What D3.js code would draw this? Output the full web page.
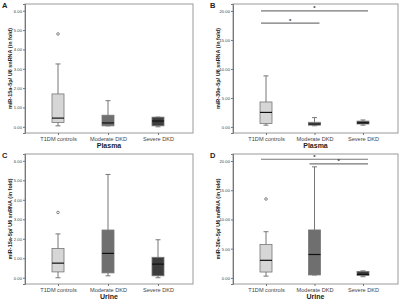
<!DOCTYPE html>
<html>
<head>
<meta charset="utf-8">
<script src="https://cdn.jsdelivr.net/npm/d3@7"></script>
<style>
  body { margin: 0; background: #fff; }
  svg { display: block; font-family: "Liberation Sans", Arial, sans-serif; }
</style>
</head>
<body>
<svg width="400" height="302"></svg>
<script>
// groups along the x axis
const groups = ["T1DM controls", "Moderate DKD", "Severe DKD"];
const boxFill = ["#d6d6d6", "#6f6f6f", "#3d3d3d"];

// five-number summaries [low, q1, median, q3, high]
const statsA = [[0.05, 0.22, 0.45, 1.7, 3.25], [0.05, 0.05, 0.2, 0.6, 1.35], [0.0, 0.05, 0.3, 0.5, 0.5]];
const outA = [[4.8], [], []];
const statsB = [[0.3, 0.6, 2.5, 4.3, 8.8], [0.2, 0.3, 0.5, 0.8, 1.6], [0.3, 0.5, 0.7, 1.0, 1.2]];
const outB = [[], [], []];
const statsC = [[0.0, 0.3, 0.75, 1.5, 2.25], [0.1, 0.25, 1.25, 2.45, 5.3], [0.0, 0.1, 0.7, 1.05, 1.95]];
const outC = [[3.35], [], []];
const statsD = [[0.3, 1.0, 3.0, 5.7, 7.9], [0.5, 0.5, 4.0, 8.2, 19.0], [0.2, 0.4, 0.6, 1.1, 1.2]];
const outD = [[13.5], [], []];

// significance bars [from group, to group, level]
const sigB = [[0, 2, 20.0], [0, 1, 17.9]];
const sigD = [[0, 2, 20.3], [1, 2, 19.5]];

const ticks15 = [0, 1, 2, 3, 4, 5, 6];
const ticks30 = [0, 5, 10, 15, 20];

const svg = d3.select("svg");

function panel(opt) {
  const g = svg.append("g");
  const x = d3.scalePoint().domain(groups).range([opt.x0 + 33, opt.x1 - 35]);
  const y = d3.scaleLinear().domain(opt.domain).range([opt.y1, opt.y0]);

  // frame
  g.append("rect")
    .attr("x", opt.x0).attr("y", opt.y0)
    .attr("width", opt.x1 - opt.x0).attr("height", opt.y1 - opt.y0)
    .attr("fill", "#fff").attr("stroke", "#9a9a9a").attr("stroke-width", 1);

  // y axis
  const ya = g.append("g")
    .attr("transform", `translate(${opt.x0},0)`)
    .call(d3.axisLeft(y).tickValues(opt.ticks).tickSize(2).tickPadding(1).tickFormat(d3.format(".2f")));
  ya.select(".domain").attr("stroke", "#777");
  ya.selectAll(".tick line").attr("stroke", "#777");
  ya.selectAll("text").attr("font-size", 4.2).attr("fill", "#444");

  // x axis
  const xa = g.append("g")
    .attr("transform", `translate(0,${opt.y1})`)
    .call(d3.axisBottom(x).tickSize(2).tickPadding(2));
  xa.select(".domain").remove();
  xa.selectAll(".tick line").attr("stroke", "#777");
  xa.selectAll("text").attr("font-size", 5.6).attr("fill", "#444");

  g.append("text")
    .attr("x", (opt.x0 + opt.x1) / 2).attr("y", opt.y1 + 15)
    .attr("text-anchor", "middle").attr("font-size", 7).attr("font-weight", "bold")
    .attr("fill", "#222").text(opt.xTitle);

  g.append("text")
    .attr("transform", `translate(${opt.x0 - 13},${(opt.y0 + opt.y1) / 2}) rotate(-90)`)
    .attr("text-anchor", "middle").attr("font-size", 5.5).attr("font-weight", "bold")
    .attr("fill", "#222").text(opt.yTitle);

  g.append("text")
    .attr("x", opt.x0 - 23).attr("y", opt.y0 + 4)
    .attr("font-size", 7.5).attr("font-weight", "bold").attr("fill", "#222").text(opt.label);

  // boxes
  const bw = 12, cap = 5;
  opt.stats.forEach((s, i) => {
    const cx = x(groups[i]);
    g.append("line").attr("x1", cx).attr("x2", cx).attr("y1", y(s[0])).attr("y2", y(s[4]))
      .attr("stroke", "#777").attr("stroke-width", 1);
    [s[0], s[4]].forEach(v => {
      g.append("line").attr("x1", cx - cap / 2).attr("x2", cx + cap / 2).attr("y1", y(v)).attr("y2", y(v))
        .attr("stroke", "#777").attr("stroke-width", 1);
    });
    g.append("rect").attr("x", cx - bw / 2).attr("y", y(s[3]))
      .attr("width", bw).attr("height", Math.max(1, y(s[1]) - y(s[3])))
      .attr("fill", boxFill[i]).attr("stroke", "#777").attr("stroke-width", 0.8);
    g.append("line").attr("x1", cx - bw / 2).attr("x2", cx + bw / 2).attr("y1", y(s[2])).attr("y2", y(s[2]))
      .attr("stroke", "#111").attr("stroke-width", 1.2);
    opt.out[i].forEach(v => {
      g.append("circle").attr("cx", cx).attr("cy", y(v)).attr("r", 1.3)
        .attr("fill", "none").attr("stroke", "#666").attr("stroke-width", 0.8);
    });
  });

  // significance bars
  (opt.sig || []).forEach(([a, b, v]) => {
    const xa1 = x(groups[a]) - 5, xb1 = x(groups[b]) + 5;
    g.append("line").attr("x1", xa1).attr("x2", xb1).attr("y1", y(v)).attr("y2", y(v))
      .attr("stroke", "#777").attr("stroke-width", 1.2);
    g.append("text").attr("x", (xa1 + xb1) / 2).attr("y", y(v) - 0.5)
      .attr("text-anchor", "middle").attr("font-size", 6).attr("font-weight", "bold")
      .attr("fill", "#333").text("*");
  });
}

const t15 = "miR-15a-5p/ U6 snRNA (in fold)";
const t30 = "miR-30e-5p/ U6 snRNA (in fold)";

panel({ label: "A", x0: 25, x1: 193, y0: 4, y1: 133, domain: [-0.32, 6.35], ticks: ticks15,
  stats: statsA, out: outA, xTitle: "Plasma", yTitle: t15 });
panel({ label: "B", x0: 233, x1: 398, y0: 4, y1: 133, domain: [-1.05, 21.2], ticks: ticks30,
  stats: statsB, out: outB, sig: sigB, xTitle: "Plasma", yTitle: t30 });
panel({ label: "C", x0: 25, x1: 193, y0: 154, y1: 284, domain: [-1.05 * 0 - 0.32, 6.35], ticks: ticks15,
  stats: statsC, out: outC, xTitle: "Urine", yTitle: t15 });
panel({ label: "D", x0: 233, x1: 398, y0: 154, y1: 284, domain: [-1.05, 21.2], ticks: ticks30,
  stats: statsD, out: outD, sig: sigD, xTitle: "Urine", yTitle: t30 });
</script>
</body>
</html>
